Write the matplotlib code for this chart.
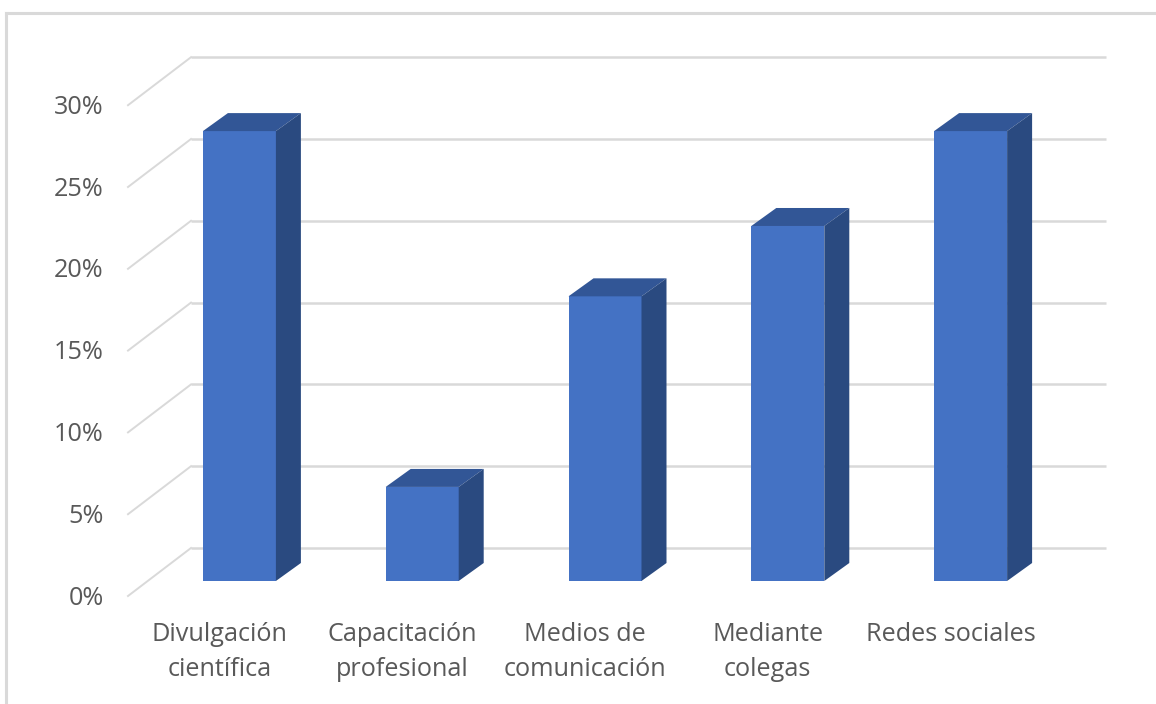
import matplotlib
matplotlib.use('Agg')
import matplotlib.pyplot as plt
from matplotlib.lines import Line2D
from matplotlib.patches import Polygon

categories = ['Divulgación\ncientífica', 'Capacitación\nprofesional', 'Medios de\ncomunicación',
              'Mediante\ncolegas', 'Redes sociales']
values = [27.5, 5.75, 17.4, 21.7, 27.5]
y_ticks = [0, 5, 10, 15, 20, 25, 30]
y_labels = ['0%', '5%', '10%', '15%', '20%', '25%', '30%']

W, H = 1156, 704
# front plane of the bars, in pixels
PX_LEFT, PX_RIGHT = 148.0, 1062.0
PX_BASE, PX_TOP = 581.0, 90.2
STEP_PX = (PX_RIGHT - PX_LEFT) / 5
UNIT_PX = (PX_BASE - PX_TOP) / 30

BAR_W = 73 / STEP_PX
DEPTH_X = 25 / STEP_PX
DEPTH_Y = 18 / UNIT_PX

FRONT = '#4472c4'
TOP = '#325696'
SIDE = '#2a4a80'
GRID = '#d9d9d9'
TEXT = '#595959'

plt.rcParams['font.family'] = ['Open Sans', 'DejaVu Sans']

fig = plt.figure(figsize=(W / 100, H / 100), dpi=100, facecolor='white')
ax = fig.add_axes([PX_LEFT / W, 1 - PX_BASE / H, (PX_RIGHT - PX_LEFT) / W, (PX_BASE - PX_TOP) / H])
ax.set_xlim(-0.5, 4.5)
ax.set_ylim(0, 30)
ax.axis('off')

# gridlines: diagonal on the side wall, then flat along the back wall
x_front = (128 - PX_LEFT) / STEP_PX - 0.5
x_back = (191 - PX_LEFT) / STEP_PX - 0.5
x_end = (1106 - PX_LEFT) / STEP_PX - 0.5
for t, lab in zip(y_ticks, y_labels):
    y_f = t - 15 / UNIT_PX
    y_b = t + 33 / UNIT_PX
    ax.plot([x_front, x_back], [y_f, y_b], color=GRID, lw=1.4, clip_on=False, zorder=1)
    ax.plot([x_back, x_end], [y_b, y_b], color=GRID, lw=1.8, clip_on=False, zorder=1, solid_capstyle='butt')
    ax.annotate(lab, xy=(x_front, y_f), xytext=(-17.5, -1.5), textcoords='offset points',
                ha='right', va='center', fontsize=18.2, color=TEXT, annotation_clip=False)

# 3D looking columns
for i, (cat, v) in enumerate(zip(categories, values)):
    x0 = i - BAR_W / 2
    x1 = i + BAR_W / 2
    ax.add_patch(Polygon([(x0, 0), (x1, 0), (x1, v), (x0, v)], closed=True, fc=FRONT, ec='none',
                         clip_on=False, zorder=3))
    ax.add_patch(Polygon([(x0, v), (x1, v), (x1 + DEPTH_X, v + DEPTH_Y), (x0 + DEPTH_X, v + DEPTH_Y)],
                         closed=True, fc=TOP, ec='none', clip_on=False, zorder=3))
    ax.add_patch(Polygon([(x1, 0), (x1 + DEPTH_X, DEPTH_Y), (x1 + DEPTH_X, v + DEPTH_Y), (x1, v)],
                         closed=True, fc=SIDE, ec='none', clip_on=False, zorder=3))
    ax.annotate(cat, xy=(i, 0), xytext=(-14.5, -29.5), textcoords='offset points', ha='center', va='top',
                fontsize=18.2, color=TEXT, linespacing=1.54, annotation_clip=False)

# outer frame, only top and left are visible
fig.add_artist(Line2D([6 / W, 6 / W], [0, 1 - 12.5 / H], color=GRID, lw=2.2))
fig.add_artist(Line2D([6 / W, 1], [1 - 12.5 / H, 1 - 12.5 / H], color=GRID, lw=2.2))

fig.savefig('out.png', dpi=100)
